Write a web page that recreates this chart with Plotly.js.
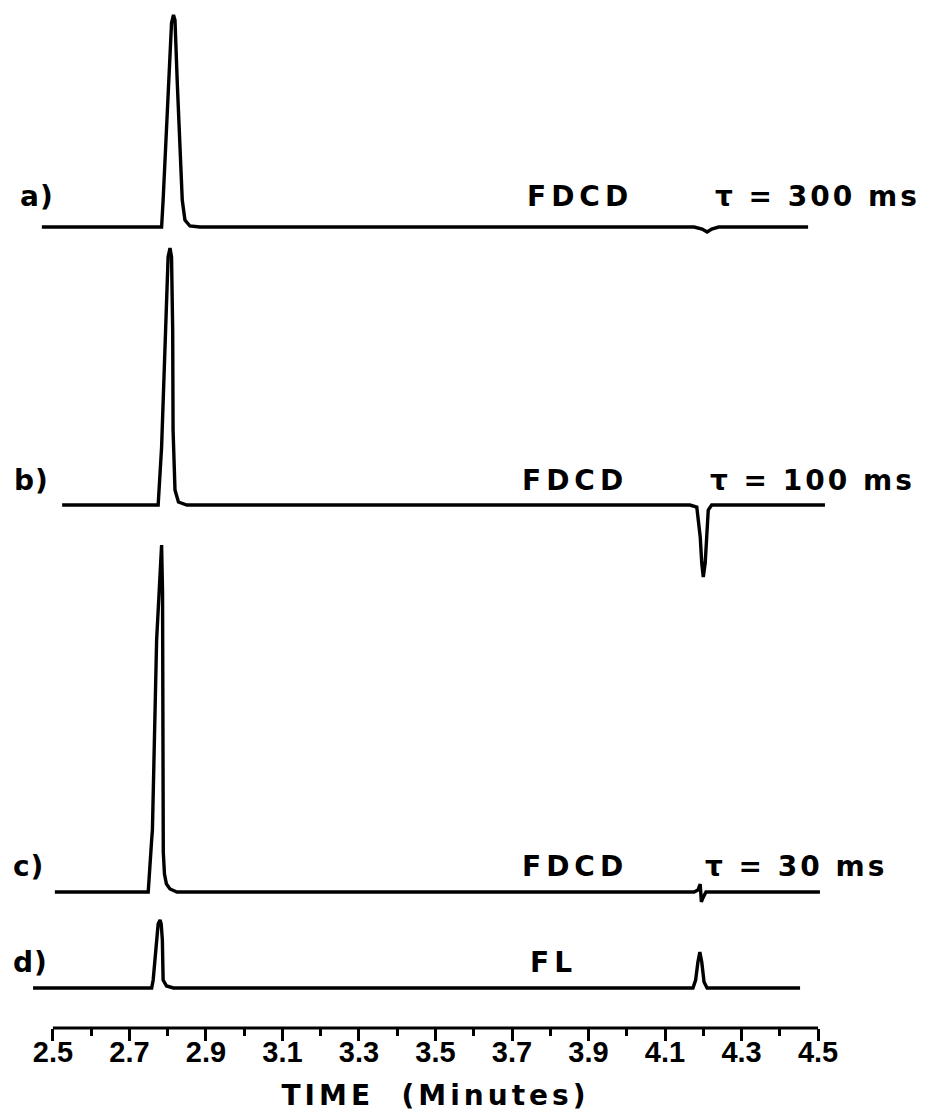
<!DOCTYPE html>
<html><head><meta charset="utf-8">
<script src="https://cdn.plot.ly/plotly-3.0.1.min.js"></script>
<style>html,body{margin:0;padding:0;background:#fff}</style>
</head><body><div id="chart" style="width:935px;height:1117px"></div>
<script>
// ---- data (time in minutes, detector signal in arbitrary units above each trace's own baseline) ----
// a) FDCD, tau = 300 ms
const timeA   = [2.471, 2.754, 2.784, 2.788, 2.797, 2.806, 2.810, 2.815, 2.819, 2.825, 2.832, 2.838, 2.845, 2.858, 2.884, 4.176, 4.197, 4.210, 4.222, 4.240, 4.474];
const signalA = [0, 0, 0, 27, 94, 170, 204, 212, 207, 144, 77, 27, 7, 1, 0, 0, -2, -5, -2, 0, 0];
// b) FDCD, tau = 100 ms
const timeB   = [2.524, 2.775, 2.784, 2.793, 2.797, 2.801, 2.806, 2.810, 2.813, 2.814, 2.819, 2.828, 2.850, 4.165, 4.183, 4.192, 4.196, 4.200, 4.205, 4.209, 4.213, 4.222, 4.518];
const signalB = [0, 0, 58, 158, 208, 248, 257, 248, 175, 75, 15, 3, 0, 0, -2, -32, -58, -72, -58, -32, -5, 0, 0];
// c) FDCD, tau = 30 ms
const timeC   = [2.505, 2.749, 2.758, 2.760, 2.771, 2.778, 2.784, 2.7865, 2.7876, 2.7884, 2.7915, 2.7967, 2.806, 2.824, 4.176, 4.186, 4.192, 4.195, 4.199, 4.207, 4.505];
const signalC = [0, 0, 52, 62, 252, 310, 347, 300, 150, 40, 18, 8, 3, 0, 0, 2, 8, -10, -6, 0, 0];
// d) FL (fluorescence)
const timeD   = [2.448, 2.758, 2.762, 2.771, 2.775, 2.780, 2.783, 2.786, 2.788, 2.797, 2.815, 4.173, 4.180, 4.186, 4.191, 4.196, 4.202, 4.210, 4.453];
const signalD = [0, 0, 8, 48, 64, 68, 64, 48, 8, 2, 0, 0, 8, 26, 36, 26, 6, 0, 0];

const traceNames  = ['a)', 'b)', 'c)', 'd)'];
const detectors   = ['FDCD', 'FDCD', 'FDCD', 'FL'];
const timeConsts  = ['τ = 300 ms', 'τ = 100 ms', 'τ = 30 ms', ''];
const tickLabelsX = ['2.5','2.7','2.9','3.1','3.3','3.5','3.7','3.9','4.1','4.3','4.5'];
const xTitle = 'TIME  (Minutes)';

// ---- layout / styling ----
const W = 935, H = 1117, PLOT_BOTTOM = 1028, ML = 30, MR = 94;
const PW = W - ML - MR;
const py2v = py => PLOT_BOTTOM - py;               // pixel row -> y units
const pxPaper = px => (px - ML) / PW;              // pixel column -> paper x
const pyPaper = py => (PLOT_BOTTOM - py) / PLOT_BOTTOM;
const baselineRows = [227, 505, 892, 988];         // vertical stacking of the four records
const series = [[timeA, signalA], [timeB, signalB], [timeC, signalC], [timeD, signalD]];

const traces = series.map(([t, s], i) => ({
  x: t,
  y: s.map(v => v + py2v(baselineRows[i])),
  type: 'scatter', mode: 'lines', hoverinfo: 'skip',
  line: {color: '#000', width: 3.4}
}));

const labelFont = {family: 'DejaVu Sans', size: 28, color: '#000', weight: 'bold'};
const sp = (txt, ls) => `<span style="letter-spacing:${ls}px">${txt}</span>`;
const labelRows = [196, 480, 866, 962];
const labelCols = [[18, 525, 713], [12, 520, 708], [11, 520, 703], [11, 528, 0]];
const annotations = [];
labelRows.forEach((row, i) => {
  annotations.push({x: pxPaper(labelCols[i][0]), y: pyPaper(row), text: sp(traceNames[i], 1)});
  annotations.push({x: pxPaper(labelCols[i][1]), y: pyPaper(row), text: sp(detectors[i], 5)});
  if (timeConsts[i]) annotations.push({x: pxPaper(labelCols[i][2]), y: pyPaper(row), text: sp(timeConsts[i], 3)});
});
annotations.forEach(a => Object.assign(a, {xref: 'paper', yref: 'paper', showarrow: false, xanchor: 'left', yanchor: 'middle', font: labelFont}));

const tickVals = tickLabelsX.map(Number);
const layout = {
  width: W, height: H,
  margin: {l: ML, r: MR, t: 0, b: H - PLOT_BOTTOM},
  paper_bgcolor: '#fff', plot_bgcolor: '#fff',
  showlegend: false,
  xaxis: {
    range: [2.44, 4.56], showgrid: false, zeroline: false, showline: false,
    tickmode: 'array', tickvals: tickVals, ticktext: tickLabelsX,
    ticks: 'outside', ticklen: 12, tickwidth: 3, tickcolor: '#000',
    minor: {tickmode: 'linear', tick0: 2.5, dtick: 0.1, ticks: 'outside', ticklen: 7, tickwidth: 3, tickcolor: '#000', showgrid: false},
    tickfont: {family: 'Liberation Sans', size: 29, color: '#000', weight: 'bold'},
    ticklabelstandoff: -14,
    title: {text: sp(xTitle, 4), font: {family: 'DejaVu Sans', size: 28, color: '#000', weight: 'bold'}, standoff: 18},
    fixedrange: true
  },
  yaxis: {range: [0, PLOT_BOTTOM], visible: false, fixedrange: true},
  shapes: [{type: 'line', xref: 'x', yref: 'paper', x0: 2.5, x1: 4.5, y0: 0, y1: 0, line: {color: '#000', width: 3}}],
  annotations: annotations
};
Plotly.newPlot('chart', traces, layout, {displayModeBar: false, staticPlot: true});
</script></body></html>
